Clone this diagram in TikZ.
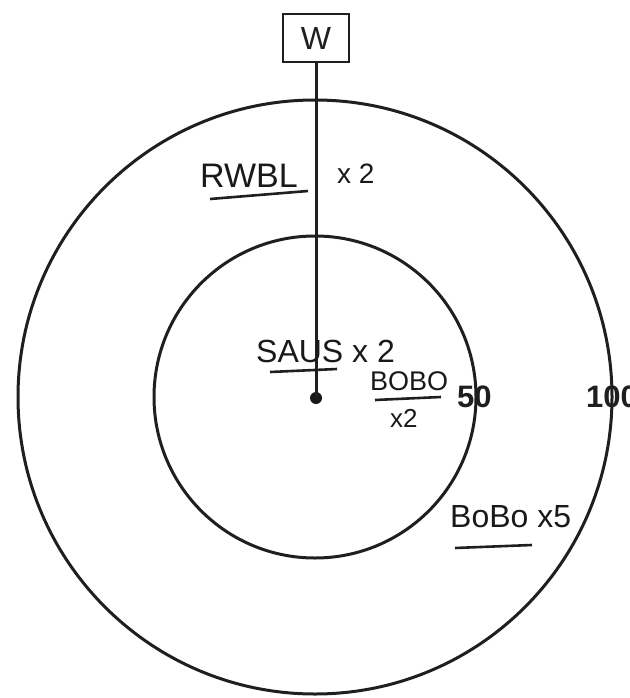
\documentclass[tikz,border=0pt]{standalone}
\usepackage{fontspec}
\setmainfont{Liberation Sans}
\begin{document}
\begin{tikzpicture}[x=1pt,y=-1pt,
  ink/.style={line width=3pt, color=black!88},
  ring/.style={circle, draw, ink, inner sep=0pt},
  boxw/.style={draw, line width=2.4pt, color=black!88, minimum width=66pt, minimum height=48pt, inner sep=0pt, font=\fontsize{32}{32}\selectfont},
  hand/.style={inner sep=0pt, anchor=west, text=black!90, font=\fontsize{30}{30}\selectfont},
  num/.style={inner sep=0pt, anchor=west, text=black!88, font=\fontsize{31}{31}\selectfont\bfseries},
  uline/.style={line width=2.6pt, color=black!88}]
\useasboundingbox (0,0) rectangle (629,698);
% circles
\node[ring, minimum size=594pt] (outer) at (315,397) {};
\node[ring, minimum size=322pt] (inner) at (315,397) {};
% W box and line to centre dot
\node[boxw] (w) at (316,38) {W};
\node[circle, fill=black!90, minimum size=12pt, inner sep=0pt] (c) at (316,398) {};
\draw[ink] (w.south) -- (c.center);
% labels
\node[hand, font=\fontsize{34}{34}\selectfont] (rwbl) at (200,176) {RWBL};
\node[hand, font=\fontsize{28}{28}\selectfont] (rx) at (337,174) {x 2};
\draw[uline] (210,199) -- (308,191);
\node[hand, font=\fontsize{32}{32}\selectfont] (saus) at (256,351) {SAUS x 2};
\draw[uline] (270,372) -- (337,369);
\node[hand, font=\fontsize{27}{27}\selectfont] (bobo1) at (370,381) {BOBO};
\draw[uline] (375,400) -- (441,397);
\node[hand, font=\fontsize{26}{26}\selectfont] (bx) at (390,418) {x2};
\node[hand, font=\fontsize{32}{32}\selectfont] (bobo2) at (450,517) {BoBo x5};
\draw[uline] (455,548) -- (532,545);
% scale numbers
\node[num] (n50) at (457,397) {50};
\node[num] (n100) at (586,397) {100};
\end{tikzpicture}
\end{document}
